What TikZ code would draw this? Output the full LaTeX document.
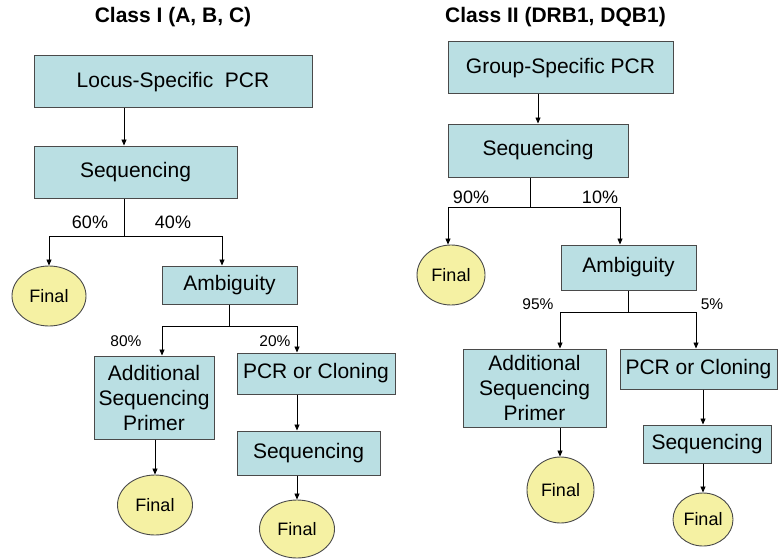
\documentclass[tikz,border=0pt]{standalone}
\usepackage{fontspec}
\setmainfont{Liberation Sans}
\usetikzlibrary{arrows.meta,shapes.geometric}
\definecolor{boxfill}{HTML}{BADFE3}
\definecolor{finfill}{HTML}{F5F1A3}
\definecolor{edgegray}{HTML}{4A4A4A}
\begin{document}
\begin{tikzpicture}[x=1pt,y=-1pt,
  box/.style={draw=edgegray,line width=1pt,fill=boxfill,inner sep=0pt,align=center,
    font=\fontsize{21}{25}\selectfont},
  fin/.style={ellipse,draw=edgegray,line width=0.9pt,fill=finfill,inner sep=0pt,
    font=\fontsize{18}{21}\selectfont},
  conn/.style={line width=0.8pt,-{Triangle[length=6pt,width=5pt]}},
  stem/.style={line width=0.8pt},
  pbig/.style={font=\fontsize{18}{21}\selectfont},
  psmall/.style={font=\fontsize{15.5}{18}\selectfont},
  ttl/.style={font=\fontsize{21}{25}\selectfont\bfseries}]
\useasboundingbox (0,0) rectangle (778,559);
% titles
\node[ttl] (t1) at (173,17) {Class I (A, B, C)};
\node[ttl] (t2) at (555.5,17) {Class II (DRB1, DQB1)};
% left column
\node[box,minimum width=278pt,minimum height=52pt] (lpcr) at (173,82) {Locus-Specific\ \ PCR};
\node[box,minimum width=203pt,minimum height=52pt] (seq1) at (135.5,172) {Sequencing};
\node[box,minimum width=135pt,minimum height=38pt] (amb1) at (229.5,285) {Ambiguity};
\node[box,minimum width=120pt,minimum height=83pt] (add1) at (154,397.5) {Additional\\Sequencing\\Primer};
\node[box,minimum width=158pt,minimum height=41pt] (pcr1) at (316,373.5) {PCR or Cloning};
\node[box,minimum width=143pt,minimum height=44pt] (seq1b) at (308.5,453) {Sequencing};
\node[fin,minimum width=74pt,minimum height=60pt] (fin1a) at (49,296) {Final};
\node[fin,minimum width=75pt,minimum height=60pt] (fin1b) at (155,505) {Final};
\node[fin,minimum width=75pt,minimum height=58pt] (fin1c) at (297,529) {Final};
% right column
\node[box,minimum width=225pt,minimum height=52pt] (gpcr) at (560.5,68) {Group-Specific PCR};
\node[box,minimum width=180pt,minimum height=53pt] (seq2) at (538,150.5) {Sequencing};
\node[box,minimum width=135pt,minimum height=45pt] (amb2) at (628.5,267.5) {Ambiguity};
\node[box,minimum width=143pt,minimum height=78pt] (add2) at (534.5,388) {Additional\\Sequencing\\Primer};
\node[box,minimum width=157pt,minimum height=40pt] (pcr2) at (698.5,369) {PCR or Cloning};
\node[box,minimum width=128pt,minimum height=38pt] (seq2b) at (707,444) {Sequencing};
\node[fin,minimum width=68pt,minimum height=60pt] (fin2a) at (451,275) {Final};
\node[fin,minimum width=67pt,minimum height=66pt] (fin2b) at (560.5,490) {Final};
\node[fin,minimum width=60pt,minimum height=53pt] (fin2c) at (703,519.5) {Final};
% percentages
\node[pbig] (p60) at (90,222) {60\%};
\node[pbig] (p40) at (173,222) {40\%};
\node[psmall] (p80) at (126,341) {80\%};
\node[psmall] (p20) at (275,341) {20\%};
\node[pbig] (p90) at (471,197) {90\%};
\node[pbig] (p10) at (600,197) {10\%};
\node[psmall] (p95) at (538,304) {95\%};
\node[psmall] (p5) at (712,304) {5\%};
% left connectors
\coordinate (xa) at (124,0);
\draw[conn] (lpcr.south -| xa) -- (seq1.north -| xa);
\coordinate (j1) at (124,236);
\coordinate (x1r) at (222,0);
\draw[stem] (seq1.south -| j1) -- (j1);
\draw[conn] (j1) -| (fin1a.north);
\draw[conn] (j1) -| (amb1.north -| x1r);
\coordinate (j2) at (229.5,326);
\coordinate (x2l) at (162,0);
\coordinate (x2r) at (297,0);
\draw[stem] (amb1.south) -- (j2);
\draw[conn] (j2) -| (add1.north -| x2l);
\draw[conn] (j2) -| (pcr1.north -| x2r);
\draw[conn] (pcr1.south -| x2r) -- (seq1b.north -| x2r);
\draw[conn] (seq1b.south -| x2r) -- (fin1c.north);
\coordinate (x3) at (155,0);
\draw[conn] (add1.south -| x3) -- (fin1b.north);
% right connectors
\draw[conn] (gpcr.south -| seq2.north) -- (seq2.north);
\coordinate (j3) at (530,207);
\coordinate (x4l) at (448,0);
\coordinate (x4r) at (620,0);
\draw[stem] (seq2.south -| j3) -- (j3);
\draw[conn] (j3) -| (fin2a.north -| x4l);
\draw[conn] (j3) -| (amb2.north -| x4r);
\coordinate (j4) at (628.5,312);
\coordinate (x5l) at (560,0);
\coordinate (x5r) at (696,0);
\draw[stem] (amb2.south) -- (j4);
\draw[conn] (j4) -| (add2.north -| x5l);
\draw[conn] (j4) -| (pcr2.north -| x5r);
\coordinate (x6) at (703,0);
\draw[conn] (pcr2.south -| x6) -- (seq2b.north -| x6);
\draw[conn] (seq2b.south -| x6) -- (fin2c.north);
\draw[conn] (add2.south -| x5l) -- (fin2b.north -| x5l);
\end{tikzpicture}
\end{document}
